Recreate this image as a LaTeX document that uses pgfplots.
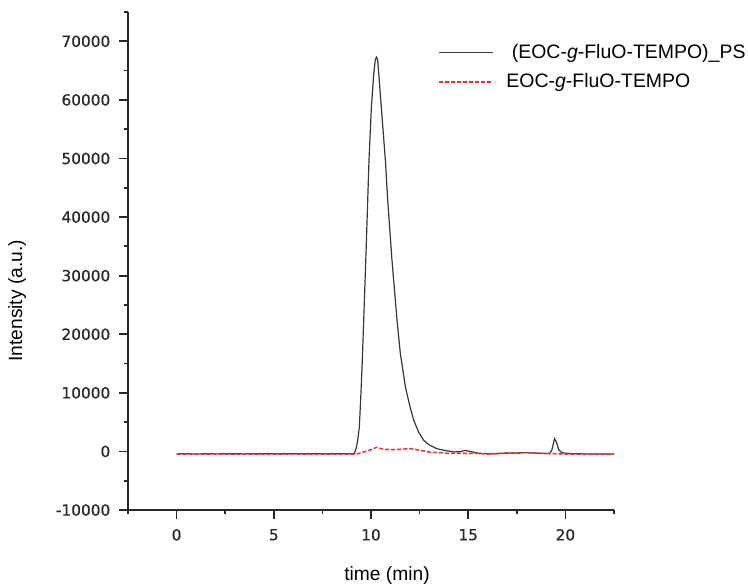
\documentclass[border=0pt]{standalone}
\usepackage{fontspec}
\setmainfont{Liberation Sans}
\newfontfamily\tickfont[FakeBold=0.6]{DejaVu Sans}
\usepackage{pgfplots}
\pgfplotsset{compat=1.18}
\definecolor{redd}{RGB}{235,45,60}
\definecolor{blk}{RGB}{55,55,55}
\definecolor{axc}{RGB}{40,40,40}
\begin{document}
\begin{tikzpicture}
\begin{axis}[
  at={(0,0)}, anchor=south west,
  scale only axis, width=364.5pt, height=373.5pt,
  xmin=-2.5, xmax=22.5, ymin=-10000, ymax=75000,
  axis lines=left,
  axis line style={-, axc, line width=1.6pt},
  every outer x axis line/.append style={-},
  every outer y axis line/.append style={-},
  xtick={0,5,10,15,20},
  ytick={-10000,0,10000,20000,30000,40000,50000,60000,70000},
  minor xtick={-2.5,2.5,7.5,12.5,17.5,22.5},
  minor ytick={-5000,5000,15000,25000,35000,45000,55000,65000,75000},
  tick align=outside,
  major tick length=6.75pt, minor tick length=3pt,
  tick style={axc, line width=1.3pt},
  scaled y ticks=false,
  /pgf/number format/assume math mode=true,
  /pgf/number format/fixed,
  /pgf/number format/1000 sep={},
  ticklabel style={font=\tickfont\fontsize{11.5}{13}\selectfont, text=axc},
  xticklabel style={yshift=-4pt},
  yticklabel style={xshift=-3pt},
  xlabel={time (min)},
  ylabel={Intensity (a.u.)},
  label style={font=\fontsize{14.4}{16}\selectfont, text=black},
  xlabel style={at={(axis description cs:0.533,-0.1325)}, anchor=center},
  ylabel style={at={(axis description cs:-0.228,0.42)}, anchor=center},
  legend style={draw=none, fill=none, at={(axis description cs:0.638,0.941)}, anchor=north west,
    font=\fontsize{14.6}{17}\selectfont, row sep=6pt, inner sep=0pt},
  legend cell align=left,
  legend image code/.code={\draw[#1] (0pt,0pt) -- (40.5pt,0pt); \path (48pt,0pt);},
]
\addplot[blk, line width=0.9pt] coordinates {
(0,-420) (0.5,-400) (1,-430) (1.5,-400) (2,-420) (2.5,-410) (3,-400) (3.5,-420)
(4,-390) (4.5,-410) (5,-400) (5.5,-380) (6,-410) (6.5,-390) (7,-400) (7.5,-380)
(8,-400) (8.5,-390) (9,-380) (9.15,-350) (9.25,700) (9.32,2000) (9.4,4150)
(9.47,9000) (9.54,14400) (9.6,20000) (9.66,25800) (9.75,34500) (9.83,42800)
(9.9,50000) (10.02,58750) (10.14,64450) (10.22,66800) (10.28,67300) (10.34,66900)
(10.4,64450) (10.53,58750) (10.74,49700) (10.86,42800) (11.08,32600) (11.34,22350)
(11.51,16700) (11.77,11000) (12.0,7700) (12.2,5300) (12.45,3300) (12.71,1900)
(13.0,1100) (13.4,450) (13.9,100) (14.3,-100) (14.6,0) (14.85,150) (15.1,0)
(15.5,-300) (16,-400) (16.5,-380) (17,-300) (17.5,-250) (18,-200) (18.5,-300)
(19,-350) (19.2,-300) (19.3,200) (19.44,2170) (19.55,1500) (19.65,300) (19.8,-200)
(20,-300) (20.5,-400) (21,-420) (21.5,-430) (22,-450) (22.5,-450)
};
\addlegendentry{\ (EOC-\textit{g}-FluO-TEMPO)\_PS}
\addplot[redd, line width=1.1pt, dash pattern=on 3pt off 1.5pt] coordinates {
(0,-450) (1,-480) (2,-460) (3,-490) (4,-450) (5,-470) (6,-440) (7,-460) (8,-450)
(9,-460) (9.3,-420) (9.6,-100) (10.0,300) (10.3,700) (10.6,400) (11.0,300)
(11.5,350) (12.0,500) (12.5,200) (13.0,-100) (13.5,-200) (14,-350) (14.5,-300)
(15,-350) (15.5,-350) (16,-450) (16.5,-350) (17,-250) (17.5,-300) (18,-200)
(18.5,-300) (19,-350) (19.5,-400) (20,-450) (21,-500) (22,-500) (22.5,-520)
};
\addlegendentry{EOC-\textit{g}-FluO-TEMPO}
\end{axis}
\pgfresetboundingbox
\path[use as bounding box] (-96pt,-57.75pt) rectangle (465pt,382.5pt);
\end{tikzpicture}
\end{document}
